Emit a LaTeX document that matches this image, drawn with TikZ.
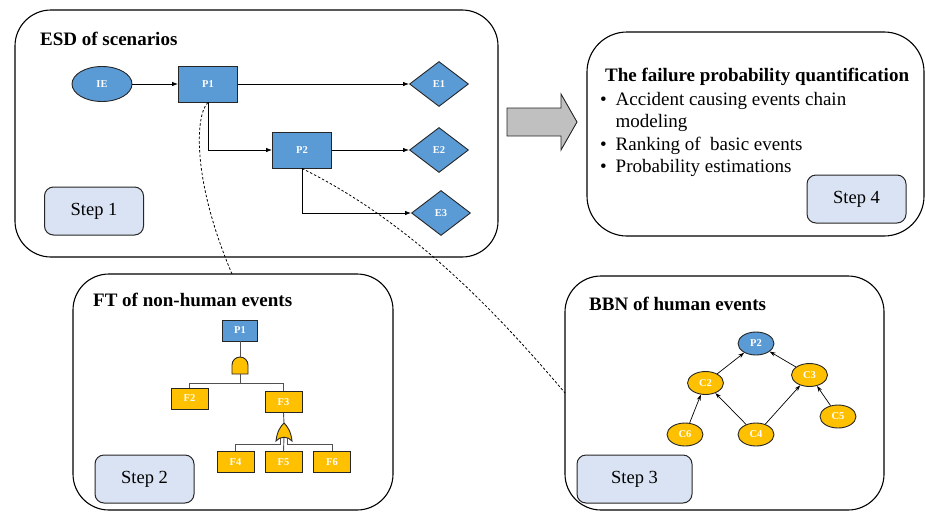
\documentclass[tikz,border=0pt]{standalone}
\usepackage{fontspec}
\setmainfont{Liberation Serif}
\usetikzlibrary{shapes.geometric,arrows.meta}

\definecolor{evblue}{HTML}{5B9BD5}
\definecolor{evyellow}{HTML}{FFC000}
\definecolor{steplav}{HTML}{DAE3F3}
\definecolor{arrowgray}{HTML}{C0C0C0}
\definecolor{edgedark}{HTML}{262626}

\tikzset{
  panel/.style={draw=black, line width=1.1pt, rounded corners=36pt},
  stepbox/.style={draw=edgedark, line width=1pt, fill=steplav, rounded corners=9pt,
    minimum width=99pt, minimum height=48pt, inner sep=0pt,
    font=\fontsize{18.5}{22}\selectfont},
  paneltitle/.style={anchor=base west, inner sep=0pt, font=\fontsize{19}{23}\selectfont\bfseries},
  evlabel/.style={text=white, font=\fontsize{10.5}{12}\selectfont\bfseries, inner sep=0pt},
  bluebox/.style={evlabel, draw=edgedark, line width=0.9pt, fill=evblue,
    minimum width=59pt, minimum height=36pt},
  blueoval/.style={evlabel, ellipse, draw=edgedark, line width=0.9pt, fill=evblue,
    minimum width=60pt, minimum height=35pt},
  enddiamond/.style={evlabel, diamond, draw=edgedark, line width=0.9pt, fill=evblue,
    minimum width=59pt, minimum height=45pt},
  ftbox/.style={evlabel, draw=edgedark, line width=0.9pt, minimum width=37pt, minimum height=21pt},
  bbnnode/.style={evlabel, ellipse, draw=edgedark, line width=0.9pt,
    minimum width=36pt, minimum height=23pt},
  flow/.style={line width=0.8pt, -{Latex[length=6pt,width=4.5pt]}},
  influence/.style={line width=0.7pt, -{Stealth[length=6pt,width=4pt]}},
  treeline/.style={line width=0.9pt, draw=edgedark!80},
  gate/.style={draw=edgedark, line width=0.9pt, fill=evyellow},
  link/.style={line width=0.8pt, dash pattern=on 2.5pt off 2pt},
  bullettext/.style={anchor=base west, inner sep=0pt, font=\fontsize{19}{23}\selectfont},
}
\newcommand{\itemdot}{\makebox[15.5pt][l]{•}}

\begin{document}
\begin{tikzpicture}[x=1pt, y=-1pt]
\useasboundingbox (0,0) rectangle (925,514);

% ---------- Step 1: event sequence diagram ----------
\draw[panel] (15,10) rectangle (498,257);
\node[paneltitle] (esdtitle) at (40,45) {ESD of scenarios};
\node[blueoval] (IE) at (102,84) {IE};
\node[bluebox] (P1) at (208,84) {P1};
\node[bluebox] (P2) at (302,150) {P2};
\node[enddiamond] (E1) at (439,84) {E1};
\node[enddiamond] (E2) at (439,150) {E2};
\node[enddiamond] (E3) at (441,213) {E3};
\draw[flow] (IE) -- (P1);
\draw[flow] (P1) -- (E1.west);
\draw[flow] (P1.south) |- (P2.west);
\draw[flow] (P2) -- (E2.west);
\draw[flow] (P2.south) |- (E3.west);
\node[stepbox] (step1) at (94,211) {Step 1};

% ---------- transition arrow ----------
\draw[draw=edgedark, line width=0.9pt, fill=arrowgray]
  (507,108) -- (561,108) -- (561,94) -- (577,122) -- (561,150) -- (561,136) -- (507,136) -- cycle;

% ---------- Step 4: quantification ----------
\draw[panel, rounded corners=40pt] (587,32) rectangle (924,236);
\node[paneltitle] (qtitle) at (605,81) {The failure probability quantification};
\node[bullettext] (b1) at (600,105) {\itemdot Accident causing events chain};
\node[bullettext] (b1b) at (615.5,127) {modeling};
\node[bullettext] (b2) at (600,150) {\itemdot Ranking of\ \ basic events};
\node[bullettext] (b3) at (600,172) {\itemdot Probability estimations};
\node[stepbox] (step4) at (856.5,199) {Step 4};

% ---------- Step 2: fault tree ----------
\draw[panel] (73,274) rectangle (393,510);
\node[paneltitle] (fttitle) at (93,306) {FT of non-human events};
\node[ftbox, fill=evblue, minimum width=35pt] (ftP1) at (240,330.5) {P1};
\node[ftbox, fill=evyellow] (F2) at (189.5,398.5) {F2};
\node[ftbox, fill=evyellow] (F3) at (283.5,402) {F3};
\node[ftbox, fill=evyellow] (F4) at (235.5,462) {F4};
\node[ftbox, fill=evyellow] (F5) at (283.5,462) {F5};
\node[ftbox, fill=evyellow] (F6) at (332,462) {F6};
% AND gate
\coordinate (andtop) at (240,357);
\coordinate (andbot) at (240,374);
\draw[gate] (232,374) -- (232,365) arc[start angle=180, end angle=0, radius=8pt] -- (248,374) -- cycle;
\draw[treeline] (ftP1.south) -- (andtop);
\draw[treeline] (andbot) -- (240,383) coordinate (andbus);
\draw[treeline] (andbus) -| (F2.north);
\draw[treeline] (andbus) -| (F3.north);
% OR gate
\coordinate (ortop) at (284,423);
\coordinate (orL) at (280.5,438);
\coordinate (orM) at (284,437);
\coordinate (orR) at (287.5,438);
\draw[treeline] (F3.south) -- (ortop);
\draw[treeline] (orL) -- (280.5,444) -| (F4.north);
\draw[treeline] (orR) -- (287.5,444) -| (F6.north);
\draw[treeline] (orM) -- (F5.north);
\draw[gate] (276,441) .. controls (277,431) and (281,426) .. (284,423)
  .. controls (287,426) and (291,431) .. (292,441)
  .. controls (288,436) and (280,436) .. (276,441) -- cycle;
\node[stepbox] (step2) at (144.5,479) {Step 2};

% ---------- Step 3: Bayesian belief network ----------
\draw[panel] (565,276) rectangle (884,510);
\node[paneltitle] (bbntitle) at (589,310) {BBN of human events};
\node[bbnnode, fill=evblue] (bP2) at (756,343.5) {P2};
\node[bbnnode, fill=evyellow] (C2) at (705.5,383) {C2};
\node[bbnnode, fill=evyellow] (C3) at (809.5,375) {C3};
\node[bbnnode, fill=evyellow] (C5) at (838,416.5) {C5};
\node[bbnnode, fill=evyellow] (C6) at (685,434.5) {C6};
\node[bbnnode, fill=evyellow] (C4) at (756,434.5) {C4};
\draw[influence] (C2) -- (bP2);
\draw[influence] (C3) -- (bP2);
\draw[influence] (C6) -- (C2);
\draw[influence] (C4) -- (C2);
\draw[influence] (C4) -- (C3);
\draw[influence] (C5) -- (C3);
\node[stepbox, minimum width=115pt] (step3) at (634.5,479) {Step 3};

% ---------- links from ESD pivots to their sub-models ----------
\coordinate (ftentry) at (232,274);
\coordinate (bbnentry) at (565,393);
\draw[link] (P1.south) .. controls (195,115) and (192,180) .. (ftentry);
\draw[link] (P2.south) .. controls (402,218) and (484,297) .. (bbnentry);

\end{tikzpicture}
\end{document}
